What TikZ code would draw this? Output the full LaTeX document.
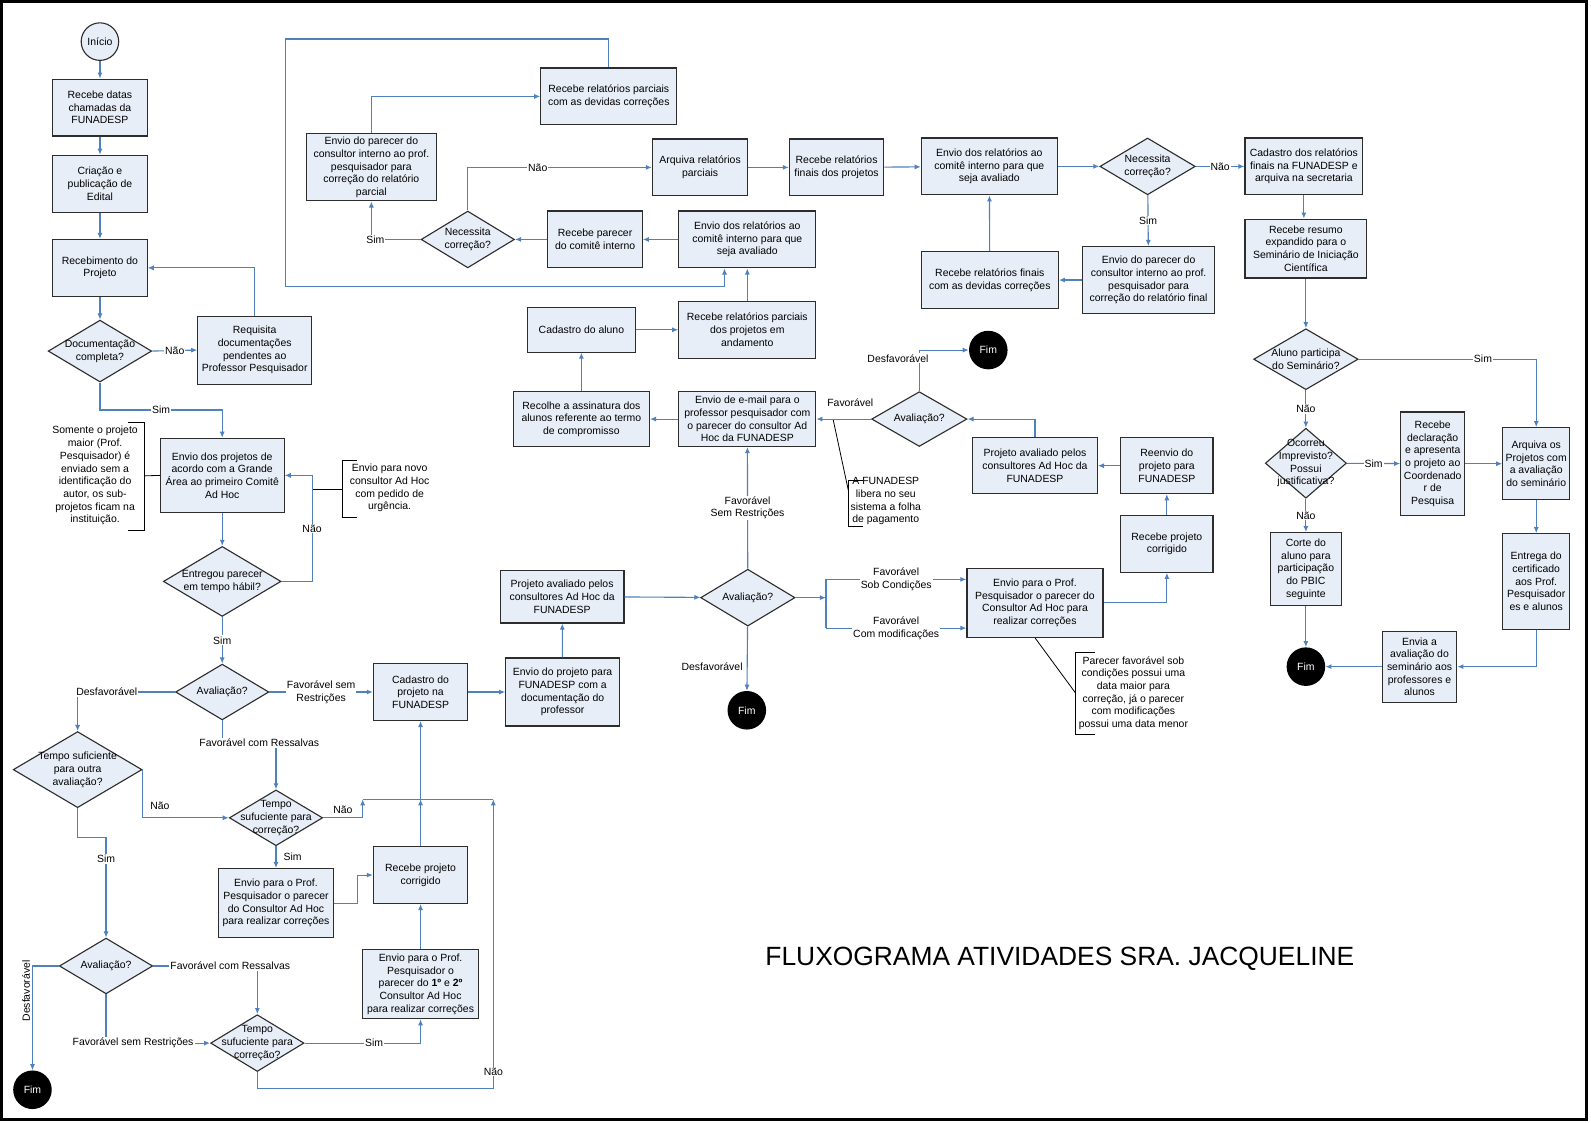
\documentclass[tikz,border=0pt]{standalone}
\usepackage{fontspec}
\setmainfont{Liberation Sans}
\usetikzlibrary{shapes.geometric,arrows.meta}
\definecolor{boxfill}{RGB}{232,238,247}
\definecolor{boxline}{RGB}{45,45,45}
\definecolor{flow}{RGB}{79,129,189}

\begin{document}
\begin{tikzpicture}[x=1pt, y=-1pt, >={Latex[length=6pt,width=5pt]},
  every node/.style={font=\fontsize{10.3}{12.5}\selectfont},
  proc/.style={draw=boxline, fill=boxfill, line width=1.1pt, align=center, inner sep=1pt},
  dec/.style={diamond, draw=boxline, fill=boxfill, line width=1.1pt, inner sep=0pt},
  dtxt/.style={align=center, inner sep=0pt},
  term/.style={circle, fill=black, text=white, minimum size=38pt, inner sep=0pt},
  arr/.style={->, draw=flow, line width=1.1pt},
  seg/.style={draw=flow, line width=1.1pt},
  lbl/.style={fill=white, inner sep=1pt, align=center},
  note/.style={align=center, inner sep=0pt},
  brack/.style={draw=black, line width=0.8pt}]

  % Page and frame
  \useasboundingbox (0,0) rectangle (1568,1106);
  \draw[line width=3pt] (1.5,1.5) rectangle (1564,1103.5);

  % Admission of the projects (left column)
  \node[term, fill=boxfill, draw=boxline, text=black, line width=1.1pt, minimum size=37pt] (ini) at (98.5,41) {Início};
  \node[proc, minimum width=93pt, minimum height=56pt] (rdatas) at (98.5,106) {Recebe datas\\chamadas da\\FUNADESP};
  \node[proc, minimum width=93pt, minimum height=56pt] (criacao) at (98.5,181) {Criação e\\publicação de\\Edital};
  \node[proc, minimum width=93pt, minimum height=56pt] (receb) at (98.5,264) {Recebimento do\\Projeto};
  \node[dec, minimum width=102pt, minimum height=61pt, label={[dtxt]center:Documentação\\completa?}] (doc) at (98.5,346) {};
  \node[proc, minimum width=112pt, minimum height=67pt] (req) at (251,345) {Requisita\\documentações\\pendentes ao\\Professor Pesquisador};
  \node[proc, minimum width=122pt, minimum height=73pt] (envproj) at (219,468.5) {Envio dos projetos de\\acordo com a Grande\\Área ao primeiro Comitê\\Ad Hoc};
  \node[dec, minimum width=116pt, minimum height=69pt, label={[dtxt]center:Entregou parecer\\em tempo hábil?}] (entregou) at (219,573) {};
  \node[dec, minimum width=92pt, minimum height=55pt, label={[dtxt]center:Avaliação?}] (aval1) at (219,682) {};
  \node[proc, minimum width=93pt, minimum height=56pt] (cadproj) at (414.5,682) {Cadastro do\\projeto na\\FUNADESP};
  \node[dec, minimum width=127pt, minimum height=75pt, label={[dtxt]center:Tempo suficiente\\para outra\\avaliação?}] (tsuf) at (76.5,758.5) {};
  \node[dec, minimum width=92pt, minimum height=55pt, label={[dtxt]center:Tempo\\sufuciente para\\correção?}] (tcor1) at (272,806) {};
  \node[proc, minimum width=114pt, minimum height=68pt] (envpc) at (272,890) {Envio para o Prof.\\Pesquisador o parecer\\do Consultor Ad Hoc\\para realizar correções};
  \node[proc, minimum width=93pt, minimum height=56pt] (rcorr1) at (414.5,862.4) {Recebe projeto\\corrigido};
  \node[proc, minimum width=114pt, minimum height=68pt] (env12) at (414.5,970) {Envio para o Prof.\\Pesquisador o\\parecer do \textbf{1º} e \textbf{2º}\\Consultor Ad Hoc\\para realizar correções};
  \node[dec, minimum width=92pt, minimum height=55pt, label={[dtxt]center:Avaliação?}] (aval2) at (104.5,952) {};
  \node[term] (fim1) at (32,1074) {Fim};
  \node[dec, minimum width=92pt, minimum height=56pt, label={[dtxt]center:Tempo\\sufuciente para\\correção?}] (tcor2) at (253.6,1028) {};
  \coordinate (mA) at (357.4,787.7);
  \coordinate (mB) at (486.2,787.7);

  % Notes on the left
  \node[note] (nota1) at (93.7,468.8) {Somente o projeto\\maior (Prof.\\Pesquisador) é\\enviado sem a\\identificação do\\autor, os sub-\\projetos ficam na\\instituição.};
  \draw[brack] (126.5,416.5) -- (142,416.5) -- (142,522.4) -- (126.5,522.4);
  \coordinate (nl) at (142,469);
  \draw[brack] (nl) -- (envproj.west);
  \node[note] (nota2) at (384,481) {Envio para novo\\consultor Ad Hoc\\com pedido de\\urgência.};
  \draw[brack] (352,454) -- (337,454) -- (337,510) -- (352,510);
  \coordinate (nr) at (337,482);
  \coordinate (nrj) at (307,482);
  \draw[brack] (nrj) -- (nr);

  % Left connectors
  \draw[arr] (ini) -- (rdatas);
  \draw[arr] (rdatas) -- (criacao);
  \draw[arr] (criacao) -- (receb);
  \draw[arr] (receb) -- (doc);
  \draw[arr] (doc.east) -- node[lbl]{Não} (req.west);
  \draw[arr] (req.north) |- (receb.east);
  \draw[arr] (doc.south) -- ++(0,27) -| node[lbl, pos=0.25]{Sim} (envproj.north);
  \draw[arr] (envproj) -- (entregou);
  \draw[arr] (entregou.east) -- ++(30,0) |- node[lbl, pos=0.25]{Não} (envproj.east);
  \draw[arr] (entregou) -- node[lbl]{Sim} (aval1);
  \draw[arr] (aval1.west) -| node[lbl, pos=0.35]{Desfavorável} (tsuf.north);
  \draw[arr] (aval1.east) -- node[lbl]{Favorável sem\\Restrições} (cadproj.west);
  \draw[arr] (aval1.south) -- ++(0,22) -| node[lbl, pos=0.345]{Favorável com Ressalvas} (tcor1.north);
  \draw[arr] (tsuf.east) |- node[above=7pt, pos=0.6, inner sep=1pt]{Não} (tcor1.west);
  \draw[arr] (tcor1.east) -| node[above=3pt, pos=0.25, inner sep=1pt]{Não} (mA);
  \draw[seg] (mA) -- (mB);
  \draw[arr] (rcorr1.north) -- (rcorr1.north |- mA);
  \draw[arr] (rcorr1.north |- mA) -- (cadproj.south);
  \draw[arr] (tcor1) -- node[right=6pt, inner sep=1pt]{Sim} (envpc);
  \draw[arr] (envpc.east) -- ++(23,0) |- (rcorr1.west);
  \draw[arr] (env12) -- (rcorr1);
  \draw[arr] (tsuf.south) -- ++(0,28.5) -| node[lbl, pos=0.61]{Sim} (aval2.north);
  \draw[arr] (aval2.west) -| node[pos=0.62, rotate=90, anchor=south, inner sep=2pt]{Desfavorável} (fim1.north);
  \draw[arr] (aval2.east) -| node[lbl, pos=0.37]{Favorável com Ressalvas} (tcor2.north);
  \draw[arr] (aval2.south) |- node[lbl, pos=0.63]{Favorável sem Restrições} (tcor2.west);
  \draw[arr] (tcor2.east) -| node[lbl, pos=0.3]{Sim} (env12.south);
  \draw[arr] (tcor2.south) -- ++(0,16.4) -| node[lbl, pos=0.53]{Não} (mB);

  % FUNADESP evaluation (centre)
  \node[proc, minimum width=112pt, minimum height=67pt] (envfun) at (554.5,682) {Envio do projeto para\\FUNADESP com a\\documentação do\\professor};
  \node[proc, minimum width=122pt, minimum height=52pt] (pavmid) at (554,588) {Projeto avaliado pelos\\consultores Ad Hoc da\\FUNADESP};
  \node[dec, minimum width=93pt, minimum height=56pt, label={[dtxt]center:Avaliação?}] (aval3) at (737,589) {};
  \node[term] (fim3) at (736,700) {Fim};
  \node[proc, minimum width=134pt, minimum height=68pt] (envpr) at (1020,594) {Envio para o Prof.\\Pesquisador o parecer do\\Consultor Ad Hoc para\\realizar correções};
  \node[proc, minimum width=91pt, minimum height=56pt] (rcorr2) at (1150,536) {Recebe projeto\\corrigido};
  \node[proc, minimum width=91pt, minimum height=55pt] (reenv) at (1150,459) {Reenvio do\\projeto para\\FUNADESP};
  \node[proc, minimum width=123pt, minimum height=55pt] (pavr) at (1020,459) {Projeto avaliado pelos\\consultores Ad Hoc da\\FUNADESP};
  \node[dec, minimum width=94pt, minimum height=54pt, label={[dtxt]center:Avaliação?}] (aval4) at (906,413) {};
  \node[term] (fim4) at (974,345) {Fim};
  \node[proc, minimum width=135pt, minimum height=54pt] (email) at (736.5,413) {Envio de e-mail para o\\professor pesquisador com\\o parecer do consultor Ad\\Hoc da FUNADESP};
  \node[proc, minimum width=134pt, minimum height=54pt] (recolhe) at (573,413) {Recolhe a assinatura dos\\alunos referente ao termo\\de compromisso};
  \node[proc, minimum width=106pt, minimum height=44pt] (cadal) at (573,325) {Cadastro do aluno};
  \node[proc, minimum width=135pt, minimum height=56pt] (rparc) at (736.5,325) {Recebe relatórios parciais\\dos projetos em\\andamento};
  \coordinate (sM) at (814,589);
  \coordinate (sT) at (814,571);
  \coordinate (sB) at (814,619);

  % Notes in the centre
  \node[note] (nota3) at (873,494) {A FUNADESP\\libera no seu\\sistema a folha\\de pagamento};
  \draw[brack] (851,473) -- (836,473) -- (836,519) -- (851,519);
  \coordinate (nf) at (836,483);
  \coordinate (nfj) at (821,413);
  \draw[brack] (nfj) -- (nf);
  \node[note] (nota4) at (1117,683) {Parecer favorável sob\\condições possui uma\\data maior para\\correção, já o parecer\\com modificações\\possui uma data menor};
  \draw[brack] (1079,643) -- (1060,643) -- (1060,723.4) -- (1079,723.4);
  \coordinate (np) at (1060,683);
  \draw[brack] (envpr.south) -- (np);

  % Centre connectors
  \draw[arr] (cadproj) -- (envfun);
  \draw[arr] (envfun) -- (pavmid);
  \draw[arr] (pavmid) -- (aval3);
  \draw[arr] (aval3) -- node[left=3pt, pos=0.62, inner sep=1pt]{Desfavorável} (fim3);
  \draw[arr] (aval3) -- node[lbl]{Favorável\\Sem Restrições} (email);
  \draw[arr] (aval3.east) -- (sM);
  \draw[seg] (sT) -- (sB);
  \draw[arr] (sT) -- node[lbl]{Favorável\\Sob Condições} (sT -| envpr.west);
  \draw[arr] (sB) -- node[lbl]{Favorável\\Com modificações} (sB -| envpr.west);
  \draw[arr] (envpr.east) -| (rcorr2.south);
  \draw[arr] (rcorr2) -- (reenv);
  \draw[arr] (reenv) -- (pavr);
  \draw[arr] (pavr.north) |- (aval4.east);
  \draw[arr] (aval4.north) |- node[lbl, pos=0.4, xshift=-21pt]{Desfavorável} (fim4.west);
  \draw[arr] (aval4) -- node[above=11pt, pos=0.38, inner sep=1pt]{Favorável} (email);
  \draw[arr] (email) -- (recolhe);
  \draw[arr] (recolhe) -- (cadal);
  \draw[arr] (cadal) -- (rparc);

  % Partial reports (top)
  \node[proc, minimum width=135pt, minimum height=56pt] (envcm) at (736.5,236) {Envio dos relatórios ao\\comitê interno para que\\seja avaliado};
  \node[proc, minimum width=93pt, minimum height=56pt] (rparec) at (586.5,236) {Recebe parecer\\do comitê interno};
  \node[dec, minimum width=92pt, minimum height=56pt, label={[dtxt]center:Necessita\\correção?}] (nec1) at (461,236) {};
  \node[proc, minimum width=128pt, minimum height=66pt] (envpp) at (366,165) {Envio do parecer do\\consultor interno ao prof.\\pesquisador para\\correção do relatório\\parcial};
  \node[proc, minimum width=134pt, minimum height=56pt] (rcpc) at (600,95) {Recebe relatórios parciais\\com as devidas correções};
  \node[proc, minimum width=94pt, minimum height=56pt] (arqp) at (690,165) {Arquiva relatórios\\parciais};
  \coordinate (loopc) at (281.5,282.5);

  \draw[arr] (rparc) -- (envcm);
  \draw[arr] (envcm) -- (rparec);
  \draw[arr] (rparec) -- (nec1);
  \draw[arr] (nec1.west) -| node[lbl, pos=0.46]{Sim} (envpp.south);
  \draw[arr] (envpp.north) |- (rcpc.west);
  \draw[arr] (rcpc.north) -- ++(0,-28) -| (loopc) -| ([xshift=-22.5pt]envcm.south);
  \draw[arr] (nec1.north) |- node[lbl, pos=0.69]{Não} (arqp.west);

  % Final reports (top right)
  \node[proc, minimum width=93pt, minimum height=56pt] (rfin) at (824.5,165) {Recebe relatórios\\finais dos projetos};
  \node[proc, minimum width=134pt, minimum height=56pt] (envcf) at (975,164) {Envio dos relatórios ao\\comitê interno para que\\seja avaliado};
  \node[dec, minimum width=94pt, minimum height=56pt, label={[dtxt]center:Necessita\\correção?}] (nec2) at (1131,164) {};
  \node[proc, minimum width=116pt, minimum height=56pt] (cadf) at (1285,164) {Cadastro dos relatórios\\finais na FUNADESP e\\arquiva na secretaria};
  \node[proc, minimum width=130pt, minimum height=66pt] (envpf) at (1132,276) {Envio do parecer do\\consultor interno ao prof.\\pesquisador para\\correção do relatório final};
  \node[proc, minimum width=135pt, minimum height=56pt] (rfcc) at (975.5,276) {Recebe relatórios finais\\com as devidas correções};

  \draw[arr] (arqp) -- (rfin);
  \draw[arr] (rfin) -- (envcf);
  \draw[arr] (envcf) -- (nec2);
  \draw[arr] (nec2) -- node[lbl]{Não} (cadf);
  \draw[arr] (nec2) -- node[lbl]{Sim} (envpf);
  \draw[arr] (envpf) -- (rfcc);
  \draw[arr] (rfcc) -- (envcf);

  % Seminar (right column)
  \node[proc, minimum width=120pt, minimum height=58pt] (rres) at (1287,245) {Recebe resumo\\expandido para o\\Seminário de Iniciação\\Científica};
  \node[dec, minimum width=103pt, minimum height=60pt, label={[dtxt]center:Aluno participa\\do Seminário?}] (aluno) at (1287,354) {};
  \node[dec, minimum width=80pt, minimum height=69pt, label={[dtxt]center:Ocorreu\\Imprevisto?\\Possui\\justificativa?}] (ocor) at (1287,456.5) {};
  \node[proc, minimum width=63pt, minimum height=102pt] (rdecl) at (1412,457) {Recebe\\declaração\\e apresenta\\o projeto ao\\Coordenado\\r de\\Pesquisa};
  \node[proc, minimum width=66pt, minimum height=71pt] (arqs) at (1514,457) {Arquiva os\\Projetos com\\a avaliação\\do seminário};
  \node[proc, minimum width=66pt, minimum height=94pt] (entr) at (1514,573) {Entrega do\\certificado\\aos Prof.\\Pesquisador\\es e alunos};
  \node[proc, minimum width=73.5pt, minimum height=70pt] (envav) at (1399,657) {Envia a\\avaliação do\\seminário aos\\professores e\\alunos};
  \node[proc, minimum width=70pt, minimum height=72pt] (corte) at (1287,561) {Corte do\\aluno para\\participação\\do PBIC\\seguinte};
  \node[term] (fim5) at (1287,657) {Fim};

  \draw[arr] (cadf.south) -- (cadf.south |- rres.north);
  \draw[arr] (rres) -- (aluno);
  \draw[arr] (aluno.east) -| node[lbl, pos=0.35]{Sim} (arqs.north);
  \draw[arr] (aluno) -- node[lbl]{Não} (ocor);
  \draw[arr] (ocor) -- node[lbl]{Sim} (rdecl);
  \draw[arr] (rdecl) -- (arqs);
  \draw[arr] (ocor) -- node[lbl]{Não} (corte);
  \draw[arr] (arqs) -- (entr);
  \draw[arr] (entr.south) |- (envav.east);
  \draw[arr] (envav) -- (fim5);
  \draw[arr] (corte) -- (fim5);

  % Title
  \node[font=\fontsize{26}{30}\selectfont] (title) at (1044.5,945) {FLUXOGRAMA ATIVIDADES SRA. JACQUELINE};
\end{tikzpicture}
\end{document}
